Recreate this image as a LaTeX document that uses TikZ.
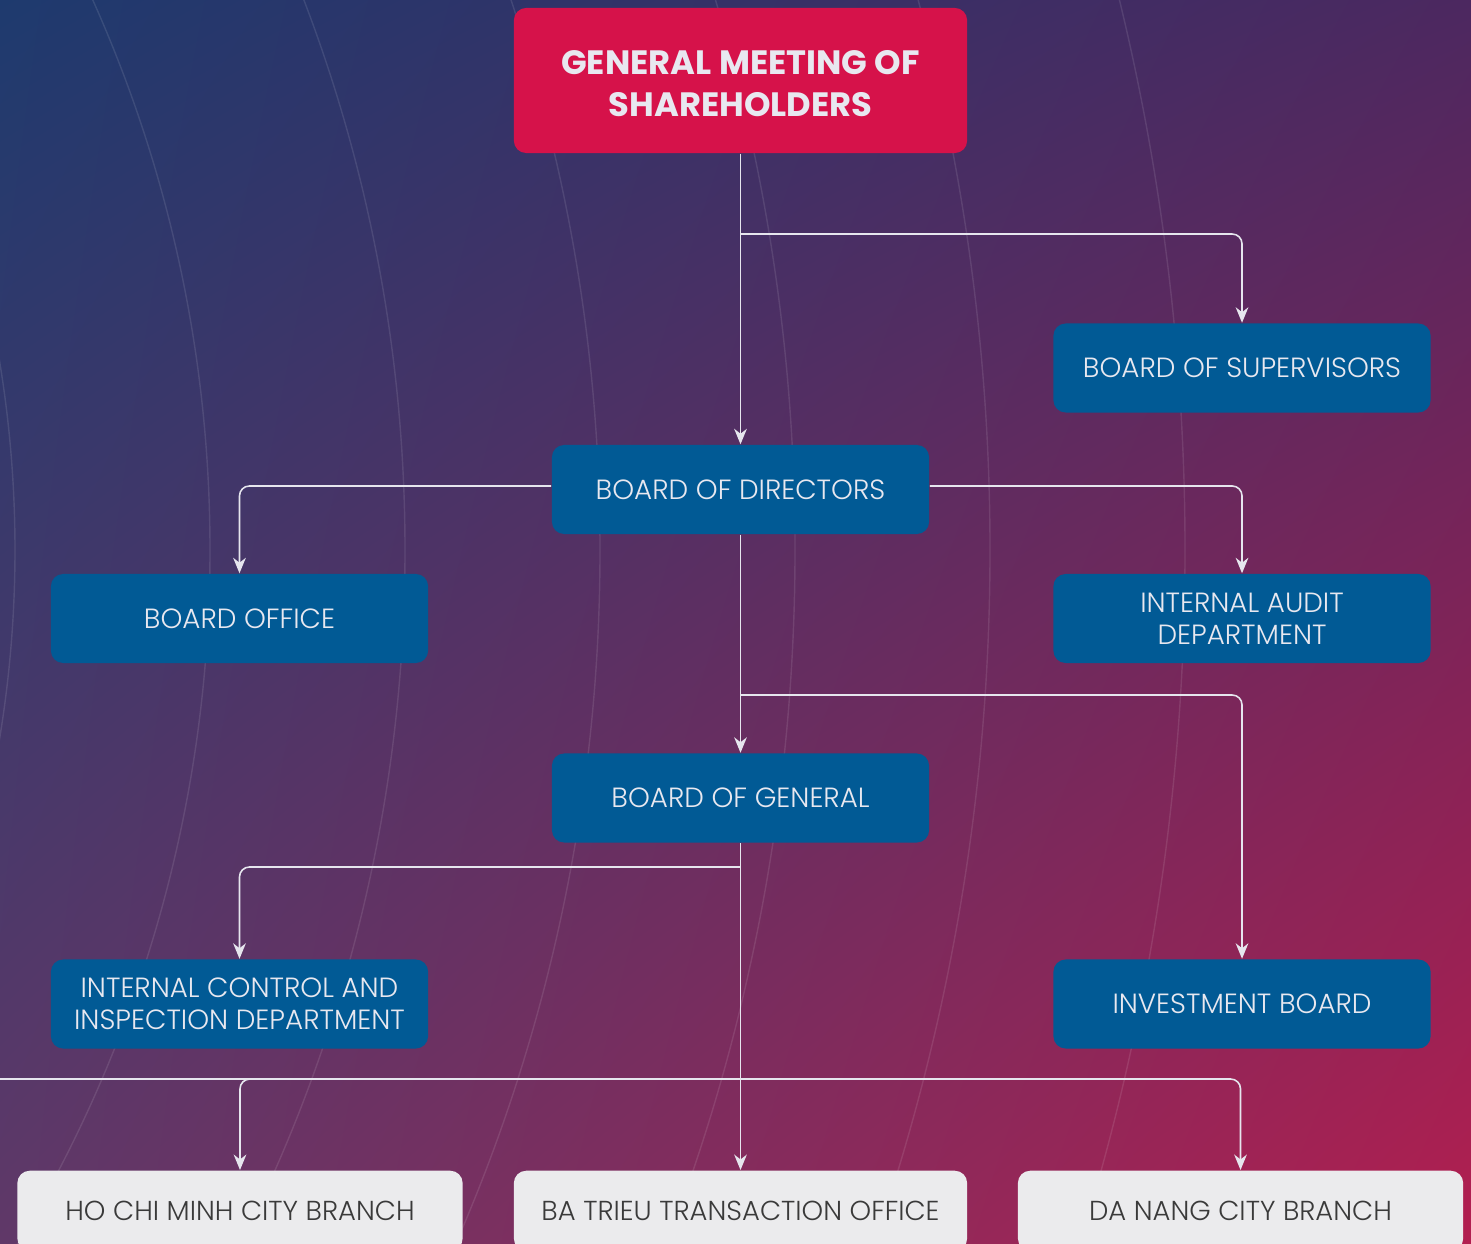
\documentclass[tikz,border=0pt]{standalone}
\usepackage{fontspec}
\setmainfont{Poppins}
\newfontfamily\lightface{Poppins}[UprightFont={* Light}]
\usetikzlibrary{arrows.meta, shadings}

\definecolor{bgblue}{HTML}{1E3A6E}
\definecolor{bgviolet}{HTML}{4C2860}
\definecolor{bgplum}{HTML}{603868}
\definecolor{bgcrimson}{HTML}{B21F50}
\definecolor{boxred}{HTML}{D6124A}
\definecolor{boxblue}{HTML}{015A95}
\definecolor{boxgray}{HTML}{EBEBED}
\definecolor{txtgray}{HTML}{3A3A3A}
\definecolor{txtlight}{HTML}{E8E8F0}
\definecolor{wire}{HTML}{E6E6EE}

\tikzset{
	assembly/.style={rectangle, rounded corners=3.5pt, fill=boxred, text=txtlight,
		minimum width=4.53cm, minimum height=1.45cm, inner sep=0pt, align=center,
		font=\fontsize{9.6}{12.2}\selectfont\bfseries},
	unit/.style={rectangle, rounded corners=3.5pt, fill=boxblue, text=txtlight,
		minimum width=3.77cm, minimum height=0.89cm, inner sep=0pt, align=center,
		font=\lightface\fontsize{7.9}{9.1}\selectfont},
	branch/.style={rectangle, rounded corners=3.5pt, fill=boxgray, text=txtgray,
		minimum width=4.45cm, minimum height=0.8cm, inner sep=0pt, anchor=north,
		font=\lightface\fontsize{7.8}{9.1}\selectfont},
	link/.style={draw=wire, line width=0.45pt, rounded corners=2.8pt,
		-{Stealth[length=4.4pt, width=3.6pt, inset=1.4pt]}},
	ring/.style={draw=white, draw opacity=0.1, line width=0.4pt}
}

\begin{document}
\begin{tikzpicture}[x=0.01cm, y=-0.01cm]
	  % Page frame
	  \useasboundingbox (0,0) rectangle (1471,1243);
	  \clip (0,0) rectangle (1471,1243);

	  % Background gradient
	  \shade[upper left=bgblue, upper right=bgviolet, lower left=bgplum, lower right=bgcrimson]
	    (0,0) rectangle (1471,1243);

	  % Faint rings around a centre off the left edge
	  \def\cx{-1135}
	  \def\cy{550}
	  \foreach \r in {1150,1345,...,2330}
	    \draw[ring] (\cx,\cy) circle (\r);

	  % Boxes
	  \def\trunk{740.5}
	  \node[assembly] (gms) at (\trunk,80.5) {\rule{0pt}{8.6pt}GENERAL MEETING OF\\SHAREHOLDERS};
	  \node[unit] (sup) at (1242,368) {BOARD OF SUPERVISORS};
	  \node[unit] (bod) at (\trunk,489.5) {BOARD OF DIRECTORS};
	  \node[unit] (office) at (239.5,618.5) {BOARD OFFICE};
	  \node[unit] (audit) at (1242,618.5) {INTERNAL AUDIT\\DEPARTMENT};
	  \node[unit] (bog) at (\trunk,798) {BOARD OF GENERAL};
	  \node[unit] (control) at (239.5,1004) {INTERNAL CONTROL AND\\INSPECTION DEPARTMENT};
	  \node[unit] (invest) at (1242,1004) {INVESTMENT BOARD};
	  \node[branch] (hcm) at (240,1170) {HO CHI MINH CITY BRANCH};
	  \node[branch, minimum width=4.53cm] (batrieu) at (\trunk,1170) {BA TRIEU TRANSACTION OFFICE};
	  \node[branch] (danang) at (1240.5,1170) {DA NANG CITY BRANCH};

	  % Junctions on the trunk
	  \coordinate (j1) at (\trunk,234);
	  \coordinate (j2) at (\trunk,695);
	  \coordinate (j3) at (\trunk,867);
	  \coordinate (rail) at (0,1079);
	  \coordinate (railhcm) at (350,1079);

	  % Connectors
	  \draw[link] (gms.south) -- (bod.north);
	  \draw[link] (j1) -| (sup.north);
	  \draw[link] ([yshift=1pt]bod.east) -| (audit.north);
	  \draw[link] ([yshift=1pt]bod.west) -| (office.north);
	  \draw[link] (bod.south) -- (bog.north);
	  \draw[link] (j2) -| (invest.north);
	  \draw[link] (bog.south) -- (batrieu.north);
	  \draw[link] (j3) -| (control.north);
	  \draw[link] (rail) -| (danang.north);
	  \draw[link] (railhcm) -| (hcm.north);
	\end{tikzpicture}
\end{document}
